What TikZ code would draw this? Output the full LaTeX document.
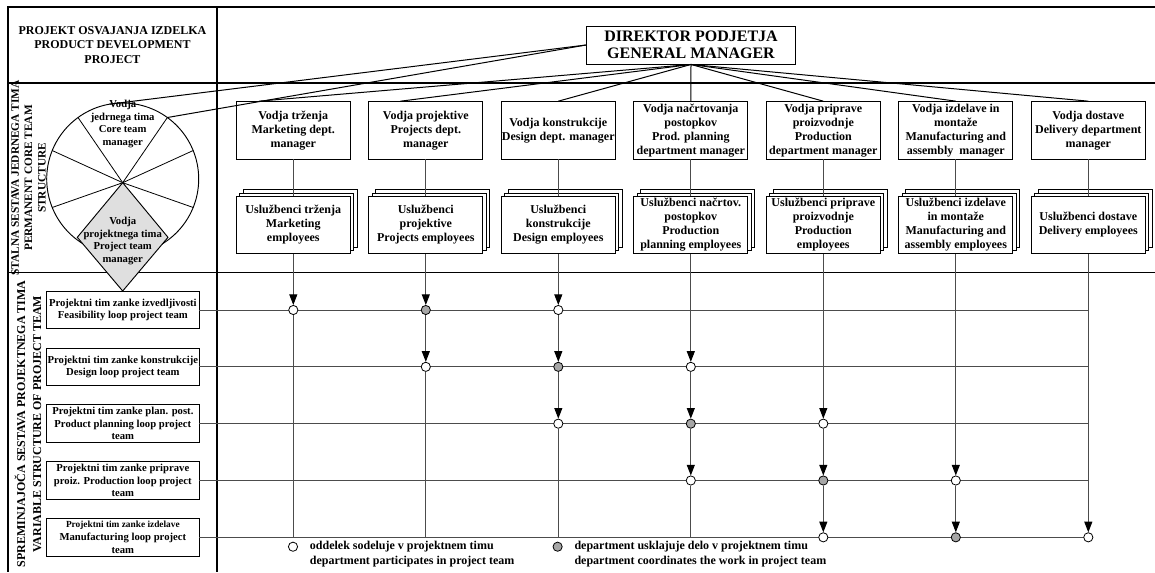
\documentclass[tikz,border=0pt]{standalone}
\usepackage{fontspec}
\setmainfont{Liberation Serif}
\usetikzlibrary{arrows.meta, calc, positioning, shadows}

\begin{document}
\begin{tikzpicture}[x=0.75pt, y=-0.75pt,
    txt/.style={align=center, inner sep=0.5pt, font=\bfseries\fontsize{9}{10.5}\selectfont},
    smalltxt/.style={txt, font=\bfseries\fontsize{8}{9.5}\selectfont},
    mgrbox/.style={txt, draw, line width=0.7pt, fill=white, minimum width=85.5pt, minimum height=43pt},
    staffbox/.style={mgrbox,
      copy shadow={shadow xshift=5pt, shadow yshift=5pt, line width=0.7pt},
      copy shadow={shadow xshift=2.5pt, shadow yshift=2.5pt, line width=0.7pt}},
    loopbox/.style={smalltxt, draw, line width=0.7pt, fill=white, minimum width=114.2pt, minimum height=28.3pt},
    dot0/.style={circle, draw, line width=0.6pt, fill=white, minimum size=6.9pt, inner sep=0pt},
    dot1/.style={dot0, fill=gray!70},
    dot2/.style={dot0},
    gridline/.style={line width=0.9pt},
    conn/.style={black!70, line width=0.75pt},
    arr/.style={conn, -{Triangle[length=8pt, width=6pt, black]}}]
\useasboundingbox (0,0) rectangle (1155,572);

% frame of the table
\draw[gridline] (1155,7) -- (8,7) -- (8,572);
\draw[gridline] (217,7) -- (217,572);
\draw[gridline] (8,83) -- (1155,83) (8,272.5) -- (1155,272.5);

\node[txt, font=\bfseries\fontsize{9}{11}\selectfont] (head) at (112.5,45)
  {PROJEKT OSVAJANJA IZDELKA\\PRODUCT DEVELOPMENT\\PROJECT};
\node[txt, rotate=90, font=\bfseries\fontsize{8.5}{10}\selectfont] (core) at (28.5,178)
  {STALNA SESTAVA JEDRNEGA TIMA\\PERMANENT CORE TEAM\\STRUCTURE};
\node[txt, rotate=90, font=\bfseries\fontsize{9}{12}\selectfont] (var) at (28,424)
  {SPREMINJAJOČA SESTAVA PROJEKTNEGA TIMA\\VARIABLE STRUCTURE OF PROJECT TEAM};

% core team circle and project manager diamond
\coordinate (ctr) at (122.7,179);
\coordinate (hub) at (122.7,182.7);
\draw[line width=0.7pt, fill=white] (ctr) circle[radius=76];
\foreach \a in {-126,-54,-158,-22,158,22}
  \draw[line width=0.6pt] (hub) -- ($(ctr)+(\a:76)$);
\draw[line width=0.7pt, fill=gray!25] (hub) -- (77.3,237.3) -- (122.7,291) -- (168,237.3) -- cycle;
\node[smalltxt] (cm) at (122.7,124) {Vodja\\jedrnega tima\\Core team\\manager};
\node[smalltxt] (pm) at (122.7,241) {Vodja\\projektnega tima\\Project team\\manager};

% general manager and departments
\node[mgrbox, minimum width=156.75pt, minimum height=28.5pt, font=\bfseries\fontsize{12}{12.5}\selectfont]
  (gm) at (691,45) {DIREKTOR PODJETJA\\GENERAL MANAGER};
\foreach \i/\mt/\st in {
    1/{Vodja trženja\\Marketing dept.\\manager}/{Uslužbenci trženja\\Marketing\\employees},
    2/{Vodja projektive\\Projects dept.\\manager}/{Uslužbenci\\projektive\\Projects employees},
    3/{Vodja konstrukcije\\Design dept. manager}/{Uslužbenci\\konstrukcije\\Design employees},
    4/{Vodja načrtovanja\\postopkov\\Prod. planning\\department manager}/{Uslužbenci načrtov.\\postopkov\\Production\\planning employees},
    5/{Vodja priprave\\proizvodnje\\Production\\department manager}/{Uslužbenci priprave\\proizvodnje\\Production\\employees},
    6/{Vodja izdelave in\\montaže\\Manufacturing and\\assembly\ \ manager}/{Uslužbenci izdelave\\in montaže\\Manufacturing and\\assembly employees},
    7/{Vodja dostave\\Delivery department\\manager}/{Uslužbenci dostave\\Delivery employees}}{
  \pgfmathsetmacro\xx{293.3+132.5*(\i-1)}
  \node[mgrbox] (m\i) at (\xx,130.3) {\mt};
  \node[staffbox] (s\i) at (\xx,225) {\st};
}
\coordinate (c1) at ($(ctr)+(-100:76)$);
\coordinate (c2) at ($(ctr)+(-54:76)$);
\draw[conn, black] (c1) -- (gm.west);
\draw[conn, black] (c2) -- (gm.west);
\draw[conn, black] (gm.south) -- ($(m1.north west)!0.2!(m1.north east)$);
\draw[conn, black] (gm.south) -- ($(m2.north west)!0.28!(m2.north east)$);
\foreach \i in {3,...,7} \draw[conn, black] (gm.south) -- (m\i.north);
\foreach \i in {1,...,7} \draw[conn] (m\i) -- (s\i);

% loop project teams
\foreach \r/\lt in {
    1/{Projektni tim zanke izvedljivosti\\Feasibility loop project team},
    2/{Projektni tim zanke konstrukcije\\Design loop project team},
    3/{Projektni tim zanke plan. post.\\Product planning loop project\\team},
    4/{Projektni tim zanke priprave\\proiz. Production loop project\\team},
    5/{{\fontsize{7}{9.5}\selectfont Projektni tim zanke izdelave}\\Manufacturing loop project\\team}}{
  \pgfmathsetmacro\yy{310+56.83*(\r-1)}
  \node[loopbox] (l\r) at (122.85,\yy) {\lt};
  \draw[conn] (l\r.east) -- (s7 |- l\r);
}
\foreach \r in {1,...,5}
  \foreach \k in {0,1,2}{
    \pgfmathtruncatemacro\c{\r+\k}
    \node[dot\k] (o\r-\c) at (s\c |- l\r) {};
  }
% first arrow from the employees of each department
\foreach \c/\r in {1/1, 2/1, 3/1, 4/2, 5/3, 6/4, 7/5}
  \draw[arr] (s\c) -- (o\r-\c);
\foreach \c/\r/\q in {2/1/2, 3/1/2, 3/2/3, 4/2/3, 4/3/4, 5/3/4, 5/4/5, 6/4/5}
  \draw[arr] (o\r-\c) -- (o\q-\c);
\foreach \c in {1,...,4}
  \draw[conn] (o\c-\c) -- (s\c |- l5);

% legend
\node[dot0] (k1) at (293,546.7) {};
\node[dot1] (k2) at (557.6,546.7) {};
\node[txt, anchor=west, align=left, font=\bfseries\fontsize{9}{11.25}\selectfont]
  (t1) at ($(k1.east)+(11,7.5)$) {oddelek sodeluje v projektnem timu\\department participates in project team};
\node[txt, anchor=west, align=left, font=\bfseries\fontsize{9}{11.25}\selectfont]
  (t2) at ($(k2.east)+(11,7.5)$) {department usklajuje delo v projektnem timu\\department coordinates the work in project team};
\end{tikzpicture}
\end{document}
